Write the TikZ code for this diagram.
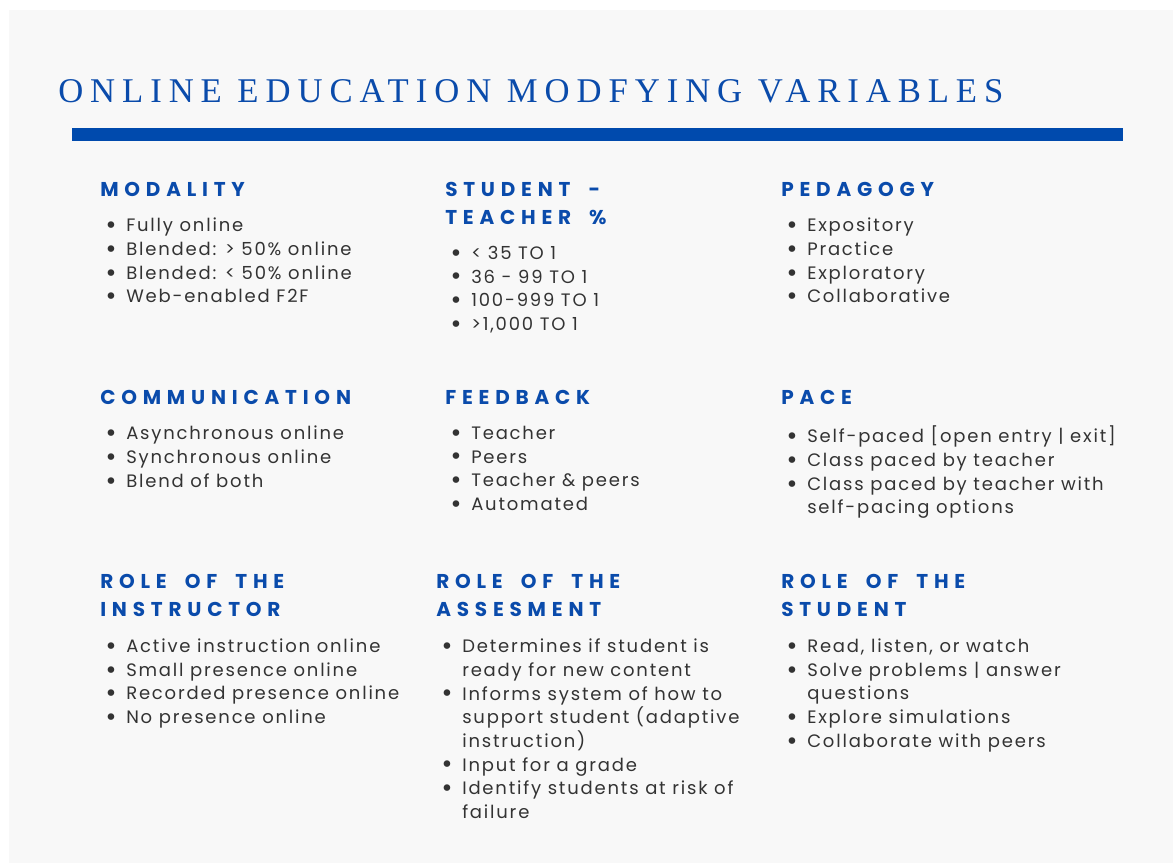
\documentclass[tikz,border=0pt]{standalone}
\usepackage{fontspec}
\setmainfont{Poppins}
\newfontfamily\titlefont[LetterSpace=20]{Liberation Serif}
\newfontfamily\headfont[LetterSpace=29,WordSpace=1.8]{Poppins}
\newfontfamily\bodyfont[LetterSpace=10]{Poppins}
\newfontfamily\bulfont{DejaVu Sans}
\usetikzlibrary{positioning}

\definecolor{edublue}{HTML}{0A4BAB}
\definecolor{barblue}{HTML}{004AAD}
\definecolor{panelgray}{HTML}{F8F8F8}
\definecolor{itemgray}{HTML}{333333}

% bullet and hanging indent for the lists
\newcommand{\bul}{\makebox[19.5pt][l]{\hspace*{3pt}\raisebox{-1.3pt}{\bulfont\fontsize{17}{12}\selectfont\textbullet}}}
\newcommand{\hang}{\hspace*{19.5pt}}

\tikzset{
  head/.style={anchor=north west, inner sep=0pt, text=edublue, align=left,
    font=\headfont\bfseries\fontsize{15}{21}\selectfont},
  items/.style={anchor=north west, inner sep=0pt, text=itemgray, align=left,
    font=\bodyfont\fontsize{13.5}{17.75}\selectfont},
}

\begin{document}
\begin{tikzpicture}[x=0.75pt, y=-0.75pt]
\useasboundingbox (0,0) rectangle (1173,863);
\fill[white] (0,0) rectangle (1173,863);
\fill[panelgray] (9,10) rectangle (1173,863);

% title and rule
\node[anchor=base west, inner sep=0pt, text=edublue,
  font=\titlefont\fontsize{26}{30}\selectfont] (title) at (58,103)
  {ONLINE EDUCATION MODFYING VARIABLES};
\fill[barblue] (72,128) rectangle (1123,141);

% first row
\node[head] (mod) at (100,182) {MODALITY};
\node[items, below=15.8pt of mod.south west, anchor=north west] (modlist)
  {\bul Fully online\\ \bul Blended: > 50\% online\\ \bul Blended: < 50\% online\\ \bul Web-enabled F2F};

\node[head] (ratio) at (445,182) {STUDENT -\\ TEACHER \%};
\node[items, below=15.8pt of ratio.south west, anchor=north west] (ratiolist)
  {\bul < 35 TO 1\\ \bul 36 - 99 TO 1\\ \bul 100-999 TO 1\\ \bul >1,000 TO 1};

\node[head] (ped) at (781,182) {PEDAGOGY};
\node[items, below=15.8pt of ped.south west, anchor=north west] (pedlist)
  {\bul Expository\\ \bul Practice\\ \bul Exploratory\\ \bul Collaborative};

% second row
\node[head] (comm) at (100,390) {COMMUNICATION};
\node[items, below=15.8pt of comm.south west, anchor=north west] (commlist)
  {\bul Asynchronous online\\ \bul Synchronous online\\ \bul Blend of both};

\node[head] (fb) at (445,390) {FEEDBACK};
\node[items, below=15.8pt of fb.south west, anchor=north west] (fblist)
  {\bul Teacher\\ \bul Peers\\ \bul Teacher \& peers\\ \bul Automated};

\node[head] (pace) at (781,390) {PACE};
\node[items, below=15.8pt of pace.south west, anchor=north west] (pacelist)
  {\bul Self-paced [open entry | exit]\\ \bul Class paced by teacher\\
   \bul Class paced by teacher with\\ \hang self-pacing options};

% third row
\node[head] (instr) at (100,574) {ROLE OF THE\\ INSTRUCTOR};
\node[items, below=16.3pt of instr.south west, anchor=north west] (instrlist)
  {\bul Active instruction online\\ \bul Small presence online\\
   \bul Recorded presence online\\ \bul No presence online};

\node[head] (assess) at (436,574) {ROLE OF THE\\ ASSESMENT};
\node[items, below=16.3pt of assess.south west, anchor=north west] (assesslist)
  {\bul Determines if student is\\ \hang ready for new content\\
   \bul Informs system of how to\\ \hang support student (adaptive\\ \hang instruction)\\
   \bul Input for a grade\\ \bul Identify students at risk of\\ \hang failure};

\node[head] (stud) at (781,574) {ROLE OF THE\\ STUDENT};
\node[items, below=16.3pt of stud.south west, anchor=north west] (studlist)
  {\bul Read, listen, or watch\\ \bul Solve problems | answer\\ \hang questions\\
   \bul Explore simulations\\ \bul Collaborate with peers};
\end{tikzpicture}
\end{document}
